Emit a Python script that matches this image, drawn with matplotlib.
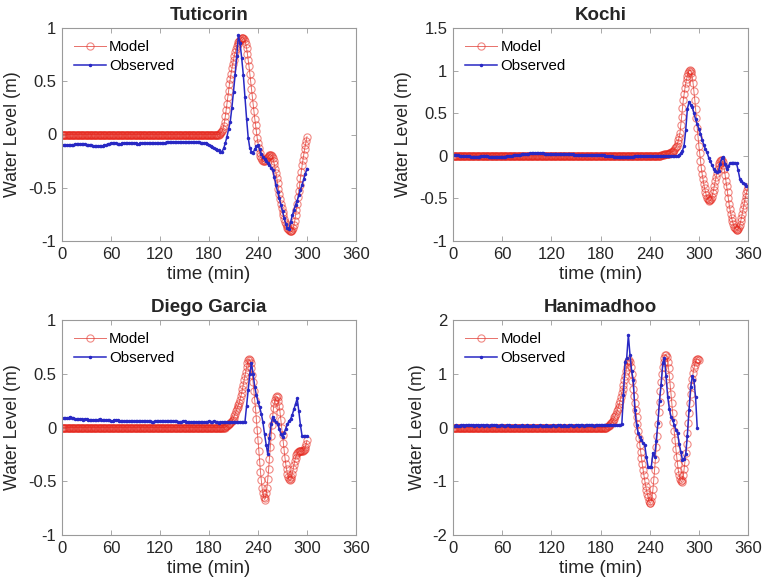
import numpy as np
import matplotlib
matplotlib.use("Agg")
import matplotlib.pyplot as plt
from matplotlib.ticker import FuncFormatter

plt.rcParams['font.family'] = ['Liberation Sans', 'DejaVu Sans']
plt.rcParams['axes.unicode_minus'] = False

# ---------------- Tuticorin ----------------
tut_model_t = np.arange(0, 301, 1)
tut_model = [
    0, 0, 0, 0, 0, 0, 0, 0, 0, 0, 0, 0, 0, 0, 0, 0, 0, 0, 0, 0,
    0, 0, 0, 0, 0, 0, 0, 0, 0, 0, 0, 0, 0, 0, 0, 0, 0, 0, 0, 0,
    0, 0, 0, 0, 0, 0, 0, 0, 0, 0, 0, 0, 0, 0, 0, 0, 0, 0, 0, 0,
    0, 0, 0, 0, 0, 0, 0, 0, 0, 0, 0, 0, 0, 0, 0, 0, 0, 0, 0, 0,
    0, 0, 0, 0, 0, 0, 0, 0, 0, 0, 0, 0, 0, 0, 0, 0, 0, 0, 0, 0,
    0, 0, 0, 0, 0, 0, 0, 0, 0, 0, 0, 0, 0, 0, 0, 0, 0, 0, 0, 0,
    0, 0, 0, 0, 0, 0, 0, 0, 0, 0, 0, 0, 0, 0, 0, 0, 0, 0, 0, 0,
    0, 0, 0, 0, 0, 0, 0, 0, 0, 0, 0, 0, 0, 0, 0, 0, 0, 0, 0, 0,
    0, 0, 0, 0, 0, 0, 0, 0, 0, 0, 0, 0, 0, 0, 0, 0, 0, 0, 0, 0,
    0, 0, 0, 0, 0, 0, 0, 0, 0, 0, 0, 0, 0,
    0.005, 0.01, 0.02, 0.03, 0.05, 0.08, 0.12, 0.17, 0.23, 0.29,
    0.35, 0.41, 0.47, 0.52, 0.57, 0.62, 0.66, 0.70, 0.74, 0.77,
    0.80, 0.83, 0.85, 0.87, 0.88, 0.89, 0.90, 0.91,
    0.91, 0.91, 0.90, 0.88, 0.85, 0.81, 0.76, 0.70, 0.64, 0.57,
    0.50, 0.43, 0.36, 0.29, 0.22, 0.15, 0.09, 0.03, -0.03, -0.08,
    -0.13, -0.17, -0.20, -0.22, -0.24, -0.25, -0.25, -0.25, -0.24, -0.23,
    -0.22, -0.21, -0.20, -0.19, -0.19, -0.19, -0.20, -0.22, -0.25, -0.28,
    -0.32, -0.36, -0.41, -0.46, -0.51, -0.56, -0.61, -0.65, -0.69, -0.73,
    -0.76, -0.79, -0.82, -0.84, -0.86, -0.88, -0.89, -0.90, -0.91, -0.91,
    -0.91, -0.90, -0.88, -0.85, -0.81, -0.76, -0.71, -0.65, -0.59, -0.53,
    -0.47, -0.41, -0.35, -0.29, -0.24, -0.19, -0.14, -0.10, -0.06, -0.02,
]
tut_obs_t = np.arange(0, 301, 2)
tut_obs = [
    -0.10, -0.10, -0.10, -0.10, -0.10, -0.10, -0.10, -0.10, -0.09, -0.09,
    -0.09, -0.09, -0.09, -0.09, -0.09, -0.10, -0.10, -0.10, -0.10, -0.11,
    -0.11, -0.11, -0.11, -0.11, -0.11, -0.11, -0.10, -0.10, -0.09, -0.09,
    -0.08, -0.08, -0.08, -0.08, -0.09, -0.09, -0.09, -0.08, -0.08, -0.08,
    -0.08, -0.08, -0.08, -0.08, -0.08, -0.08, -0.09, -0.09, -0.08, -0.08,
    -0.08, -0.08, -0.08, -0.08, -0.08, -0.08, -0.08, -0.08, -0.08, -0.08,
    -0.08, -0.08, -0.08, -0.08, -0.07, -0.07, -0.07, -0.07, -0.07, -0.07,
    -0.07, -0.07, -0.07, -0.07, -0.07, -0.07, -0.07, -0.07, -0.07, -0.07,
    -0.07, -0.07, -0.07, -0.07, -0.07, -0.08, -0.08, -0.08, -0.08, -0.09,
    -0.10, -0.11, -0.12, -0.13, -0.14, -0.15, -0.15, -0.16, -0.16, -0.13,
    -0.08, -0.02, 0.05, 0.12, 0.25, 0.40, 0.56, 0.74, 0.93, 0.86,
    0.72, 0.56, 0.35, 0.15, -0.03, -0.13, -0.16, -0.17, -0.14, -0.11,
    -0.10, -0.14, -0.18, -0.21, -0.23, -0.25, -0.27, -0.29, -0.31, -0.33,
    -0.40, -0.47, -0.54, -0.60, -0.66, -0.72, -0.78, -0.84, -0.88, -0.89,
    -0.82, -0.76, -0.71, -0.66, -0.62, -0.57, -0.52, -0.47, -0.42, -0.37,
    -0.32,
]

# ---------------- Kochi ----------------
koc_model_t = np.arange(0, 361, 1)
koc_model = [
    0, 0, 0, 0, 0, 0, 0, 0, 0, 0, 0, 0, 0, 0, 0, 0, 0, 0, 0, 0,
    0, 0, 0, 0, 0, 0, 0, 0, 0, 0, 0, 0, 0, 0, 0, 0, 0, 0, 0, 0,
    0, 0, 0, 0, 0, 0, 0, 0, 0, 0, 0, 0, 0, 0, 0, 0, 0, 0, 0, 0,
    0, 0, 0, 0, 0, 0, 0, 0, 0, 0, 0, 0, 0, 0, 0, 0, 0, 0, 0, 0,
    0, 0, 0, 0, 0, 0, 0, 0, 0, 0, 0, 0, 0, 0, 0, 0, 0, 0, 0, 0,
    0, 0, 0, 0, 0, 0, 0, 0, 0, 0, 0, 0, 0, 0, 0, 0, 0, 0, 0, 0,
    0, 0, 0, 0, 0, 0, 0, 0, 0, 0, 0, 0, 0, 0, 0, 0, 0, 0, 0, 0,
    0, 0, 0, 0, 0, 0, 0, 0, 0, 0, 0, 0, 0, 0, 0, 0, 0, 0, 0, 0,
    0, 0, 0, 0, 0, 0, 0, 0, 0, 0, 0, 0, 0, 0, 0, 0, 0, 0, 0, 0,
    0, 0, 0, 0, 0, 0, 0, 0, 0, 0, 0, 0, 0, 0, 0, 0, 0, 0, 0, 0,
    0, 0, 0, 0, 0, 0, 0, 0, 0, 0, 0, 0, 0, 0, 0, 0, 0, 0, 0, 0,
    0, 0, 0, 0, 0, 0, 0, 0, 0, 0, 0, 0, 0, 0, 0, 0, 0, 0, 0, 0,
    0, 0, 0, 0, 0, 0, 0, 0, 0, 0, 0, 0, 0,
    0.00, 0.01, 0.01, 0.01, 0.01, 0.02, 0.02, 0.02, 0.02, 0.02,
    0.02, 0.03, 0.03, 0.04, 0.05, 0.05, 0.06, 0.07, 0.09, 0.10,
    0.12, 0.15, 0.18, 0.22, 0.27,
    0.36, 0.46, 0.56, 0.65, 0.72, 0.79, 0.85, 0.90, 0.94, 0.97,
    1.00, 1.01, 1.00, 0.97, 0.92, 0.85, 0.76, 0.66, 0.55, 0.44,
    0.33, 0.22, 0.12, 0.03, -0.06, -0.14, -0.21, -0.27, -0.33, -0.38,
    -0.42, -0.46, -0.49, -0.51, -0.52, -0.53, -0.52, -0.51, -0.48, -0.44,
    -0.40, -0.35, -0.30, -0.25, -0.20, -0.15, -0.11, -0.08, -0.06, -0.05,
    -0.05, -0.07, -0.11, -0.16, -0.22, -0.29, -0.36, -0.43, -0.50, -0.57,
    -0.63, -0.68, -0.73, -0.77, -0.80, -0.83, -0.85, -0.86, -0.87, -0.87,
    -0.86, -0.84, -0.81, -0.77, -0.73, -0.68, -0.63, -0.58, -0.53, -0.48,
    -0.44, -0.40, -0.37,
]
koc_obs_t = np.arange(0, 361, 2)
koc_obs = [
    0.01, 0.01, 0.01, 0.01, 0.00, 0.00, 0.00, 0.00, 0.00, 0.00,
    0.00, -0.01, -0.01, -0.01, -0.01, -0.01, -0.01, 0.00, 0.00, 0.00,
    0.00, 0.00, -0.01, -0.01, -0.01, -0.01, -0.01, -0.01, -0.01, -0.01,
    -0.01, -0.01, -0.01, 0.00, 0.00, 0.00, 0.00, 0.01, 0.01, 0.01,
    0.01, 0.01, 0.02, 0.02, 0.02, 0.02, 0.02, 0.03, 0.03, 0.03,
    0.03, 0.03, 0.03, 0.03, 0.03, 0.03, 0.02, 0.02, 0.02, 0.02,
    0.02, 0.02, 0.02, 0.02, 0.02, 0.02, 0.02, 0.02, 0.02, 0.02,
    0.02, 0.02, 0.02, 0.02, 0.01, 0.01, 0.01, 0.01, 0.01, 0.01,
    0.01, 0.01, 0.01, 0.01, 0.01, 0.01, 0.01, 0.01, 0.01, 0.01,
    0.01, 0.01, 0.01, 0.00, 0.00, 0.00, 0.00, 0.00, -0.01, -0.01,
    -0.01, -0.01, -0.01, -0.01, -0.01, -0.01, -0.01, -0.01, -0.01, -0.01,
    -0.01, 0.00, 0.00, 0.00, 0.00, 0.00, 0.00, 0.00, 0.00, 0.00,
    0.00, 0.00, 0.00, 0.00, 0.00, 0.00, 0.00, 0.00, 0.00, 0.00,
    0.00, 0.00, 0.00, 0.00, 0.00, 0.00, 0.00, 0.00, 0.01, 0.03,
    0.06, 0.12, 0.30, 0.55, 0.63, 0.60, 0.57, 0.50, 0.43, 0.37,
    0.32, 0.26, 0.19, 0.13, 0.08, 0.04, -0.02, -0.06, -0.11, -0.15,
    -0.18, -0.19, -0.18, -0.10, -0.03, -0.01, -0.10, -0.15, -0.12, -0.09,
    -0.08, -0.08, -0.08, -0.09, -0.17, -0.27, -0.30, -0.32, -0.33, -0.35,
    -0.36,
]

# ---------------- Diego Garcia ----------------
dg_model_t = np.arange(0, 301, 1)
dg_model = [
    0, 0, 0, 0, 0, 0, 0, 0, 0, 0, 0, 0, 0, 0, 0, 0, 0, 0, 0, 0,
    0, 0, 0, 0, 0, 0, 0, 0, 0, 0, 0, 0, 0, 0, 0, 0, 0, 0, 0, 0,
    0, 0, 0, 0, 0, 0, 0, 0, 0, 0, 0, 0, 0, 0, 0, 0, 0, 0, 0, 0,
    0, 0, 0, 0, 0, 0, 0, 0, 0, 0, 0, 0, 0, 0, 0, 0, 0, 0, 0, 0,
    0, 0, 0, 0, 0, 0, 0, 0, 0, 0, 0, 0, 0, 0, 0, 0, 0, 0, 0, 0,
    0, 0, 0, 0, 0, 0, 0, 0, 0, 0, 0, 0, 0, 0, 0, 0, 0, 0, 0, 0,
    0, 0, 0, 0, 0, 0, 0, 0, 0, 0, 0, 0, 0, 0, 0, 0, 0, 0, 0, 0,
    0, 0, 0, 0, 0, 0, 0, 0, 0, 0, 0, 0, 0, 0, 0, 0, 0, 0, 0, 0,
    0, 0, 0, 0, 0, 0, 0, 0, 0, 0, 0, 0, 0, 0, 0, 0, 0, 0, 0, 0,
    0, 0, 0, 0, 0, 0, 0, 0, 0, 0, 0, 0, 0, 0, 0, 0, 0, 0, 0, 0,
    0.005, 0.01, 0.01, 0.02, 0.03, 0.03, 0.04, 0.05, 0.06, 0.07,
    0.09, 0.11, 0.13, 0.15, 0.17, 0.19, 0.21, 0.23, 0.26, 0.29,
    0.32, 0.36, 0.40, 0.44, 0.48, 0.52, 0.56, 0.60, 0.63, 0.64,
    0.63, 0.60, 0.55, 0.49, 0.42, 0.34, 0.26, 0.17, 0.08, -0.02,
    -0.12, -0.22, -0.32, -0.41, -0.49, -0.56, -0.61, -0.65, -0.67, -0.66,
    -0.61, -0.56, -0.48, -0.39, -0.29, -0.18, -0.08, 0.02, 0.11, 0.18,
    0.23, 0.26, 0.28, 0.29, 0.28, 0.25, 0.20, 0.14, 0.07, 0.00,
    -0.07, -0.14, -0.21, -0.28, -0.34, -0.39, -0.43, -0.46, -0.48, -0.49,
    -0.48, -0.46, -0.43, -0.39, -0.35, -0.31, -0.28, -0.26, -0.24, -0.23,
    -0.22, -0.22, -0.22, -0.22, -0.22, -0.22, -0.21, -0.20, -0.18, -0.15,
    -0.12,
]
dg_obs_t = np.arange(0, 301, 2)
dg_obs = [
    0.09, 0.09, 0.09, 0.09, 0.09, 0.10, 0.09, 0.09, 0.08, 0.08,
    0.08, 0.08, 0.08, 0.07, 0.08, 0.08, 0.07, 0.07, 0.07, 0.07,
    0.07, 0.07, 0.07, 0.08, 0.07, 0.07, 0.07, 0.07, 0.07, 0.07,
    0.06, 0.06, 0.07, 0.07, 0.07, 0.06, 0.06, 0.06, 0.06, 0.06,
    0.06, 0.06, 0.06, 0.06, 0.06, 0.06, 0.06, 0.06, 0.06, 0.06,
    0.06, 0.06, 0.06, 0.06, 0.06, 0.05, 0.05, 0.06, 0.06, 0.06,
    0.06, 0.06, 0.06, 0.06, 0.06, 0.06, 0.06, 0.06, 0.06, 0.06,
    0.06, 0.05, 0.05, 0.05, 0.06, 0.06, 0.05, 0.05, 0.05, 0.05,
    0.05, 0.05, 0.05, 0.05, 0.05, 0.05, 0.05, 0.05, 0.05, 0.05,
    0.06, 0.05, 0.05, 0.06, 0.05, 0.05, 0.04, 0.05, 0.05, 0.05,
    0.05, 0.05, 0.05, 0.05, 0.05, 0.05, 0.05, 0.05, 0.05, 0.05,
    0.05, 0.05, 0.05, 0.20, 0.35, 0.50, 0.60, 0.50, 0.38, 0.30,
    0.24, 0.19, 0.13, 0.05, -0.06, -0.16, -0.25, -0.10, 0.03, 0.10,
    0.07, 0.05, 0.03, -0.01, -0.06, -0.09, -0.05, -0.01, 0.03, 0.06,
    0.08, 0.12, 0.17, 0.22, 0.27, 0.15, 0.02, -0.08, -0.08, -0.08,
    -0.08,
]

# ---------------- Hanimadhoo ----------------
hm_model_t = np.arange(0, 301, 1)
hm_model = [
    0, 0, 0, 0, 0, 0, 0, 0, 0, 0, 0, 0, 0, 0, 0, 0, 0, 0, 0, 0,
    0, 0, 0, 0, 0, 0, 0, 0, 0, 0, 0, 0, 0, 0, 0, 0, 0, 0, 0, 0,
    0, 0, 0, 0, 0, 0, 0, 0, 0, 0, 0, 0, 0, 0, 0, 0, 0, 0, 0, 0,
    0, 0, 0, 0, 0, 0, 0, 0, 0, 0, 0, 0, 0, 0, 0, 0, 0, 0, 0, 0,
    0, 0, 0, 0, 0, 0, 0, 0, 0, 0, 0, 0, 0, 0, 0, 0, 0, 0, 0, 0,
    0, 0, 0, 0, 0, 0, 0, 0, 0, 0, 0, 0, 0, 0, 0, 0, 0, 0, 0, 0,
    0, 0, 0, 0, 0, 0, 0, 0, 0, 0, 0, 0, 0, 0, 0, 0, 0, 0, 0, 0,
    0, 0, 0, 0, 0, 0, 0, 0, 0, 0, 0, 0, 0, 0, 0, 0, 0, 0, 0, 0,
    0, 0, 0, 0, 0, 0, 0, 0, 0, 0, 0, 0, 0, 0, 0, 0, 0, 0, 0, 0,
    0, 0, 0, 0, 0, 0, 0, 0,
    0.01, 0.02, 0.03, 0.04, 0.06, 0.08, 0.10, 0.13, 0.16, 0.19,
    0.22, 0.26, 0.30, 0.34, 0.39, 0.44, 0.50, 0.57, 0.64, 0.72,
    0.80, 0.88, 0.96, 1.05, 1.13, 1.20, 1.24,
    1.25, 1.21, 1.12, 1.00, 0.86, 0.71, 0.58, 0.45, 0.32, 0.19,
    0.06, -0.07, -0.20, -0.33, -0.45, -0.57, -0.68, -0.79, -0.89, -0.99,
    -1.08, -1.16, -1.23, -1.30, -1.36, -1.40, -1.41, -1.37, -1.28, -1.15,
    -0.98, -0.79, -0.58, -0.37, -0.15, 0.07, 0.28, 0.48, 0.67, 0.84,
    0.99, 1.12, 1.22, 1.30, 1.34, 1.35, 1.31, 1.22, 1.10, 0.96,
    0.80, 0.63, 0.45, 0.27, 0.10, -0.07, -0.24, -0.40, -0.55, -0.68,
    -0.80, -0.89, -0.96, -1.00, -1.01, -0.97, -0.89, -0.78, -0.64, -0.48,
    -0.30, -0.11, 0.08, 0.27, 0.45, 0.62, 0.77, 0.90, 1.01, 1.10,
    1.17, 1.22, 1.26, 1.27, 1.27, 1.25,
]
hm_obs_t = np.arange(0, 299, 2)
hm_obs = [
    0.03, 0.03, 0.04, 0.03, 0.03, 0.04, 0.04, 0.03, 0.04, 0.04,
    0.05, 0.04, 0.04, 0.03, 0.04, 0.04, 0.03, 0.04, 0.04, 0.03,
    0.04, 0.04, 0.03, 0.04, 0.05, 0.04, 0.04, 0.03, 0.03, 0.04,
    0.04, 0.03, 0.03, 0.04, 0.04, 0.03, 0.03, 0.03, 0.04, 0.03,
    0.03, 0.03, 0.04, 0.03, 0.03, 0.04, 0.03, 0.03, 0.03, 0.04,
    0.03, 0.03, 0.03, 0.04, 0.03, 0.03, 0.03, 0.04, 0.03, 0.03,
    0.03, 0.04, 0.03, 0.03, 0.04, 0.04, 0.03, 0.03, 0.04, 0.03,
    0.03, 0.04, 0.04, 0.03, 0.03, 0.04, 0.04, 0.03, 0.04, 0.04,
    0.03, 0.04, 0.04, 0.05, 0.04, 0.04, 0.03, 0.04, 0.04, 0.05,
    0.04, 0.04, 0.05, 0.04, 0.04, 0.05, 0.05, 0.04, 0.05, 0.05,
    0.05, 0.05, 0.05, 0.06, 0.60, 1.22, 1.30, 1.72, 1.35, 1.05,
    0.88, 0.32, 0.05, -0.11, -0.18, -0.23, -0.28, -0.33, -0.55, -0.73,
    -0.73, -0.73, -0.47, -0.55, -0.25, 0.08, 0.50, 0.80, 1.20, 1.30,
    0.95, 0.57, 0.35, 0.20, 0.14, 0.05, -0.05, -0.10, -0.30, -0.45,
    -0.60, -0.58, -0.50, -0.15, 0.33, 0.75, 0.95, 0.88, 0.57, 0.00,
]

stations = ["Tuticorin", "Kochi", "Diego Garcia", "Hanimadhoo"]
series = [
    (tut_model_t, tut_model, tut_obs_t, tut_obs),
    (koc_model_t, koc_model, koc_obs_t, koc_obs),
    (dg_model_t, dg_model, dg_obs_t, dg_obs),
    (hm_model_t, hm_model, hm_obs_t, hm_obs),
]
y_limits = [(-1, 1), (-1, 1.5), (-1, 1), (-2, 2)]
y_ticks = [[-1, -0.5, 0, 0.5, 1], [-1, -0.5, 0, 0.5, 1, 1.5],
           [-1, -0.5, 0, 0.5, 1], [-2, -1, 0, 1, 2]]
x_ticks = [0, 60, 120, 180, 240, 300, 360]

for s in series:
    assert len(s[0]) == len(s[1]) and len(s[2]) == len(s[3])

W, H = 763, 587
rects = [(62, 28, 294, 213), (453, 28, 295, 213),
         (62, 320, 294, 215), (453, 320, 295, 215)]

fig = plt.figure(figsize=(W / 100, H / 100), dpi=100)
red_edge = (0.90, 0.16, 0.12, 0.55)
red_line = (0.88, 0.25, 0.22, 0.75)
blue = '#2828c4'
frame = '#9a9a9a'
txt = '#262626'

for i, name in enumerate(stations):
    x0, y0, w, h = rects[i]
    ax = fig.add_axes([x0 / W, 1 - (y0 + h) / H, w / W, h / H])
    mt, mv, ot, ov = series[i]
    ax.plot(mt, mv, color=red_line, linestyle='-', linewidth=0.7, marker='o',
            markersize=5.2, markerfacecolor='none', markeredgecolor=red_edge,
            markeredgewidth=0.8, label='Model')
    ax.plot(ot, ov, color=blue, linestyle='-', linewidth=1.1, marker='.',
            markersize=3, label='Observed')
    ax.set_xlim(0, 360)
    ax.set_ylim(*y_limits[i])
    ax.set_xticks(x_ticks)
    ax.set_yticks(y_ticks[i])
    ax.yaxis.set_major_formatter(FuncFormatter(lambda v, p: f'{v:g}'))
    ax.tick_params(direction='in', top=True, right=True, length=3.5,
                   width=0.6, color=frame, labelsize=12, labelcolor=txt,
                   pad=4)
    for sp in ax.spines.values():
        sp.set_color(frame)
        sp.set_linewidth(0.8)
    ax.set_title(name, fontsize=13.5, fontweight='bold', color=txt, pad=6)
    ax.set_xlabel('time (min)', fontsize=13.5, color=txt, labelpad=3)
    ax.set_ylabel('Water Level (m)', fontsize=12.8, color=txt, labelpad=5)
    ax.legend(loc='upper left', frameon=False, fontsize=10.8,
              handlelength=2.1, handletextpad=0.25, labelspacing=0.35,
              borderaxespad=0.7, borderpad=0.1)

fig.savefig('out.png', dpi=100)
